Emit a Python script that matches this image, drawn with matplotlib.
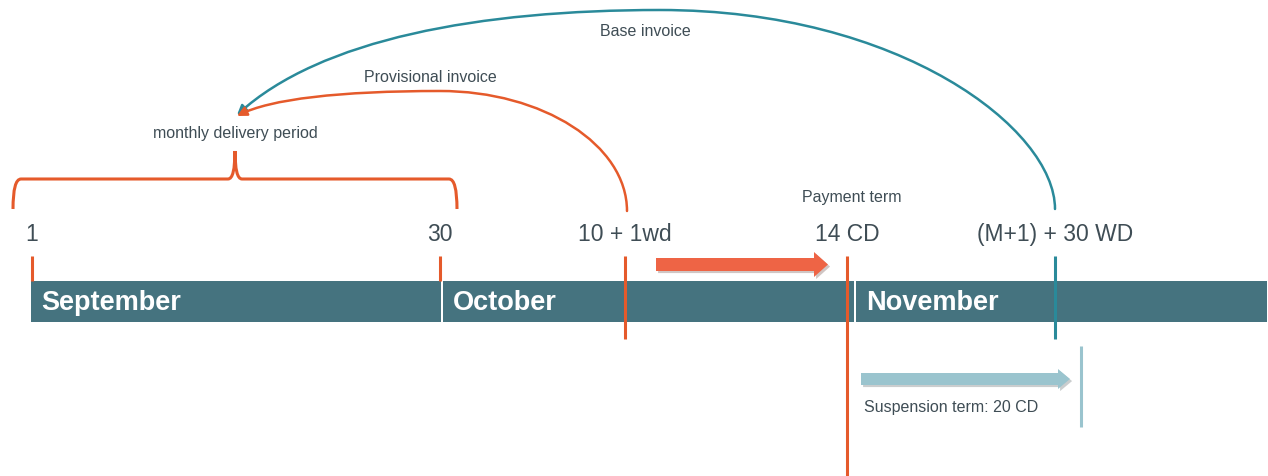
"""
Línea de tiempo de facturación: periodo de entrega, factura provisional,
factura base, plazo de pago y plazo de suspensión.
"""
import matplotlib
matplotlib.use("Agg")
import matplotlib.pyplot as plt
import matplotlib.patches as mpatches
import matplotlib.patheffects as pe
from matplotlib.path import Path

plt.rcParams["font.family"] = ["Liberation Sans", "DejaVu Sans"]

# --- datos del diagrama (coordenadas en píxeles de la imagen) ---
meses = ["September", "October", "November"]
mes_inicio = [31, 443, 856]
mes_fin = [441, 854, 1267]

eventos = ["1", "30", "10 + 1wd", "14 CD", "(M+1) + 30 WD"]
evento_x = [32, 440, 625, 847, 1055]
evento_fin = [282, 282, 340, 477, 340]
evento_color = ["#e55a2b", "#e55a2b", "#e55a2b", "#e55a2b", "#2a8a9a"]

NARANJA = "#e55a2b"
TEAL = "#2a8a9a"
BARRA = "#45737f"
GRIS = "#3f4d55"

W, H = 1268, 477
fig = plt.figure(figsize=(W / 100, H / 100), dpi=100)
ax = fig.add_axes([0, 0, 1, 1])
ax.set_xlim(0, W)
ax.set_ylim(H, 0)
ax.axis("off")

# barra de meses
for nombre, x0, x1 in zip(meses, mes_inicio, mes_fin):
    ax.add_patch(mpatches.Rectangle((x0, 282), x1 - x0, 41, color=BARRA, lw=0, zorder=1))
    ax.text(x0 + 10, 303, nombre, color="white", fontsize=19.5, fontweight="bold",
            va="center", ha="left", zorder=2)

# marcas y etiquetas de eventos
for lab, x, y1, c in zip(eventos, evento_x, evento_fin, evento_color):
    ax.plot([x, x], [257, y1], color=c, lw=2.2, solid_capstyle="butt", zorder=3)
    ax.text(x, 235, lab, color=GRIS, fontsize=16.5, ha="center", va="center")

# marca de suspensión
ax.plot([1081, 1081], [347, 428], color="#9ac4ce", lw=2.2, solid_capstyle="butt")

# llave del periodo de entrega
llave = Path(
    [(13, 210), (13, 180), (21, 180), (228, 180), (235, 180), (235, 152),
     (235, 180), (242, 180), (449, 180), (457, 180), (457, 210)],
    [Path.MOVETO, Path.CURVE3, Path.CURVE3, Path.LINETO, Path.CURVE3, Path.CURVE3,
     Path.CURVE3, Path.CURVE3, Path.LINETO, Path.CURVE3, Path.CURVE3],
)
ax.add_patch(mpatches.PathPatch(llave, fill=False, ec=NARANJA, lw=2.2))

# flechas curvas (factura base y provisional)
curva_base = Path(
    [(1055, 210), (1055, 130), (900, 11), (660, 11), (480, 11), (320, 40), (237, 116)],
    [Path.MOVETO] + [Path.CURVE4] * 6,
)
curva_prov = Path(
    [(627, 212), (627, 146), (543, 92), (440, 92), (340, 92), (270, 100), (237, 117)],
    [Path.MOVETO] + [Path.CURVE4] * 6,
)
for p, c in [(curva_base, TEAL), (curva_prov, NARANJA)]:
    ax.add_patch(mpatches.FancyArrowPatch(path=p, arrowstyle="-|>", mutation_scale=14,
                                          color=c, lw=1.8, zorder=4))

# flechas gruesas
sombra = [pe.SimplePatchShadow(offset=(1.5, -1.5), alpha=0.25), pe.Normal()]
ax.add_patch(mpatches.FancyArrow(656, 265.5, 172, 0, width=13, head_width=25,
                                 head_length=14, length_includes_head=True,
                                 color="#ee6445", lw=0, path_effects=sombra))
ax.add_patch(mpatches.FancyArrow(861, 380, 209, 0, width=12, head_width=20,
                                 head_length=12, length_includes_head=True,
                                 color="#9ac4ce", lw=0, path_effects=sombra))

# textos pequeños
ax.text(235, 134, "monthly delivery period", color=GRIS, fontsize=11.5, ha="center", va="center")
ax.text(430, 78, "Provisional invoice", color=GRIS, fontsize=11.5, ha="center", va="center")
ax.text(645, 31, "Base invoice", color=GRIS, fontsize=11.5, ha="center", va="center")
ax.text(852, 198, "Payment term", color=GRIS, fontsize=11.5, ha="center", va="center")
ax.text(864, 408, "Suspension term: 20 CD", color=GRIS, fontsize=11.5, ha="left", va="center")

fig.savefig("out.png", dpi=100)
plt.close(fig)
